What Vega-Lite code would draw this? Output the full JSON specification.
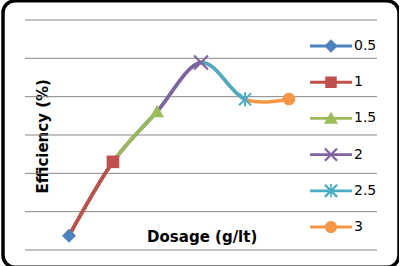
{
  "$schema": "https://vega.github.io/schema/vega-lite/v6.json",
  "width": 396,
  "height": 266.42,
  "autosize": "none",
  "padding": {"left": 3, "top": 0.83, "right": 0, "bottom": 0},
  "background": "white",
  "config": {
    "view": {"stroke": "#000000", "strokeWidth": 3.5, "cornerRadius": 12, "fill": "white"},
    "font": "DejaVu Sans"
  },
  "datasets": {
    "pts": [
      {"series": "0.5", "dosage": 0.5, "efficiency": 3.7},
      {"series": "1", "dosage": 1, "efficiency": 23.0},
      {"series": "1.5", "dosage": 1.5, "efficiency": 36.1},
      {"series": "2", "dosage": 2, "efficiency": 48.9},
      {"series": "2.5", "dosage": 2.5, "efficiency": 39.3},
      {"series": "3", "dosage": 3, "efficiency": 39.4}
    ],
    "grid": [{"v": 0}, {"v": 10}, {"v": 20}, {"v": 30}, {"v": 40}, {"v": 50}, {"v": 60}]
  },
  "resolve": {"scale": {"shape": "independent", "color": "independent"}},
  "layer": [
    {
      "data": {"name": "grid"},
      "mark": {"type": "rule", "color": "#868686", "strokeWidth": 1},
      "encoding": {
        "y": {
          "field": "v", "type": "quantitative",
          "scale": {"domain": [-4.5, 65], "nice": false, "zero": false},
          "axis": {"title": "Efficiency (%)", "labels": false, "ticks": false, "domain": false, "grid": false,
            "titleFontSize": 15, "titleFontWeight": "bold", "titleColor": "#000000", "titleFont": "DejaVu Sans",
            "titleX": 39.5, "titleY": 135, "titleAngle": 270, "titleAlign": "center", "titleBaseline": "middle"}
        },
        "x": {
          "datum": 0, "type": "quantitative",
          "scale": {"domain": [-0.25, 4.25], "nice": false, "zero": false},
          "axis": {"title": "Dosage (g/lt)", "labels": false, "ticks": false, "domain": false, "grid": false,
            "titleFontSize": 15, "titleFontWeight": "bold", "titleColor": "#000000", "titleFont": "DejaVu Sans",
            "titleX": 198.7, "titleY": -31.2, "titleAlign": "center", "titleBaseline": "middle"}
        },
        "x2": {"datum": 4}
      }
    },
    {
      "data": {"name": "pts"},
      "mark": {"type": "line", "interpolate": "cardinal", "strokeWidth": 3.5, "color": "#F79646", "strokeCap": "round", "strokeJoin": "round"},
      "encoding": {
        "x": {"field": "dosage", "type": "quantitative", "title": "Dosage (g/lt)"},
        "y": {"field": "efficiency", "type": "quantitative", "title": "Efficiency (%)"}
      }
    },
    {
      "data": {"name": "pts"},
      "mark": {"type": "line", "interpolate": "cardinal", "strokeWidth": 3.5, "color": "#4BACC6", "strokeCap": "butt", "strokeJoin": "round", "strokeDash": [280.9, 10000]},
      "encoding": {
        "x": {"field": "dosage", "type": "quantitative", "title": "Dosage (g/lt)"},
        "y": {"field": "efficiency", "type": "quantitative", "title": "Efficiency (%)"}
      }
    },
    {
      "data": {"name": "pts"},
      "mark": {"type": "line", "interpolate": "cardinal", "strokeWidth": 3.5, "color": "#8064A2", "strokeCap": "butt", "strokeJoin": "round", "strokeDash": [220.5, 10000]},
      "encoding": {
        "x": {"field": "dosage", "type": "quantitative", "title": "Dosage (g/lt)"},
        "y": {"field": "efficiency", "type": "quantitative", "title": "Efficiency (%)"}
      }
    },
    {
      "data": {"name": "pts"},
      "mark": {"type": "line", "interpolate": "cardinal", "strokeWidth": 3.5, "color": "#9BBB59", "strokeCap": "butt", "strokeJoin": "round", "strokeDash": [153.0, 10000]},
      "encoding": {
        "x": {"field": "dosage", "type": "quantitative", "title": "Dosage (g/lt)"},
        "y": {"field": "efficiency", "type": "quantitative", "title": "Efficiency (%)"}
      }
    },
    {
      "data": {"name": "pts"},
      "mark": {"type": "line", "interpolate": "cardinal", "strokeWidth": 3.5, "color": "#C0504D", "strokeCap": "butt", "strokeJoin": "round", "strokeDash": [86.1, 10000]},
      "encoding": {
        "x": {"field": "dosage", "type": "quantitative", "title": "Dosage (g/lt)"},
        "y": {"field": "efficiency", "type": "quantitative", "title": "Efficiency (%)"}
      }
    },
    {
      "data": {"name": "pts"},
      "mark": {"type": "point", "filled": true, "opacity": 1, "size": 196, "strokeWidth": 0},
      "encoding": {
        "x": {"field": "dosage", "type": "quantitative", "title": "Dosage (g/lt)"},
        "y": {"field": "efficiency", "type": "quantitative", "title": "Efficiency (%)"},
        "color": {
          "field": "series", "type": "nominal", "legend": null,
          "scale": {"domain": ["0.5", "1", "1.5", "2", "2.5", "3"], "range": ["#4F81BD", "#C0504D", "#9BBB59", "#8064A2", "#4BACC6", "#F79646"]}
        },
        "shape": {
          "field": "series", "type": "nominal", "legend": null,
          "scale": {"domain": ["0.5", "1", "1.5", "2", "2.5", "3"], "range": [
            "M0,-1L1,0L0,1L-1,0Z",
            "M-0.9,-0.9L0.9,-0.9L0.9,0.9L-0.9,0.9Z",
            "M0,-0.95L1,0.8L-1,0.8Z",
            "M-0.89,-1.11L1.11,0.89L0.89,1.11L-1.11,-0.89ZM1.11,-0.89L-0.89,1.11L-1.11,0.89L0.89,-1.11Z",
            "M-0.75,-0.95L0.95,0.75L0.75,0.95L-0.95,-0.75ZM0.95,-0.75L-0.75,0.95L-0.95,0.75L0.75,-0.95ZM-0.14,-1L0.14,-1L0.14,1L-0.14,1Z",
            "M0.9,0A0.9,0.9 0 1,1 -0.9,0A0.9,0.9 0 1,1 0.9,0Z"
          ]}
        }
      }
    },
    {
      "data": {"name": "pts"},
      "transform": [{"filter": "datum.dosage < 0"}],
      "mark": {"type": "point", "filled": true, "opacity": 1, "size": 1024, "strokeWidth": 0},
      "encoding": {
        "color": {
          "field": "series", "type": "nominal",
          "scale": {"domain": ["0.5", "1", "1.5", "2", "2.5", "3"], "range": ["#4F81BD", "#C0504D", "#9BBB59", "#8064A2", "#4BACC6", "#F79646"]},
          "legend": {
            "title": null, "orient": "none", "legendX": 312, "legendY": 29.2, "padding": 0,
            "symbolSize": 1024, "symbolStrokeWidth": 0, "symbolOpacity": 1,
            "labelFontSize": 14, "labelFont": "DejaVu Sans", "labelColor": "#000000", "labelOffset": 7, "rowPadding": 13.2
          }
        },
        "shape": {
          "field": "series", "type": "nominal",
          "scale": {"domain": ["0.5", "1", "1.5", "2", "2.5", "3"], "range": [
            "M-1.31,-0.09L1.31,-0.09L1.31,0.09L-1.31,0.09ZM0,-0.42L0.42,0L0,0.42L-0.42,0Z",
            "M-1.31,-0.09L1.31,-0.09L1.31,0.09L-1.31,0.09ZM-0.36,-0.36L0.36,-0.36L0.36,0.36L-0.36,0.36Z",
            "M-1.31,-0.09L1.31,-0.09L1.31,0.09L-1.31,0.09ZM0,-0.42L0.44,0.34L-0.44,0.34Z",
            "M-1.31,-0.09L1.31,-0.09L1.31,0.09L-1.31,0.09ZM-0.33,-0.43L0.43,0.33L0.33,0.43L-0.43,-0.33ZM0.43,-0.33L-0.33,0.43L-0.43,0.33L0.33,-0.43Z",
            "M-1.31,-0.09L1.31,-0.09L1.31,0.09L-1.31,0.09ZM-0.33,-0.43L0.43,0.33L0.33,0.43L-0.43,-0.33ZM0.43,-0.33L-0.33,0.43L-0.43,0.33L0.33,-0.43ZM-0.05,-0.42L0.05,-0.42L0.05,0.42L-0.05,0.42Z",
            "M-1.31,-0.09L1.31,-0.09L1.31,0.09L-1.31,0.09ZM0.38,0A0.38,0.38 0 1,1 -0.38,0A0.38,0.38 0 1,1 0.38,0Z"
          ]},
          "legend": {
            "title": null, "orient": "none", "legendX": 312, "legendY": 29.2, "padding": 0,
            "symbolSize": 1024, "symbolStrokeWidth": 0, "symbolOpacity": 1,
            "labelFontSize": 14, "labelFont": "DejaVu Sans", "labelColor": "#000000", "labelOffset": 7, "rowPadding": 13.2
          }
        }
      }
    }
  ]
}
